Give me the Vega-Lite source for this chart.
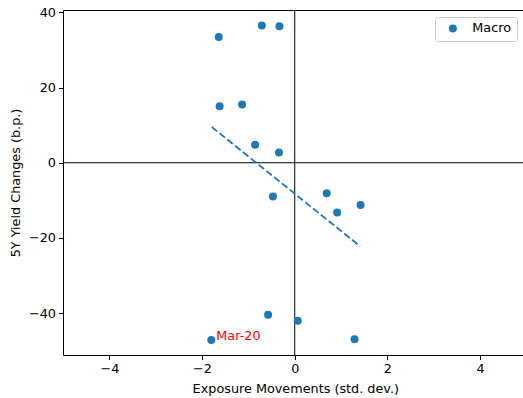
{
  "$schema": "https://vega.github.io/schema/vega-lite/v6.json",
  "width": 460,
  "height": 345,
  "autosize": {"type": "none"},
  "padding": {"left": 63, "top": 10, "right": 0, "bottom": 43},
  "background": "white",
  "config": {
    "font": "DejaVu Sans",
    "view": {"stroke": "#000", "strokeWidth": 1},
    "axis": {
      "grid": false,
      "domain": false,
      "tickColor": "#000",
      "tickSize": 4.5,
      "tickWidth": 1,
      "labelColor": "#000",
      "labelFontSize": 12.8,
      "labelPadding": 3,
      "labelFont": "DejaVu Sans",
      "titleFont": "DejaVu Sans",
      "titleFontSize": 12.8,
      "titleFontWeight": "normal",
      "titleColor": "#000"
    }
  },
  "datasets": {
    "pts": [
      {"x": -1.64, "y": 33.4, "series": "Macro", "label": ""},
      {"x": -0.71, "y": 36.5, "series": "Macro", "label": ""},
      {"x": -0.33, "y": 36.3, "series": "Macro", "label": ""},
      {"x": -1.62, "y": 15.0, "series": "Macro", "label": ""},
      {"x": -1.135, "y": 15.5, "series": "Macro", "label": ""},
      {"x": -0.855, "y": 4.8, "series": "Macro", "label": ""},
      {"x": -0.34, "y": 2.7, "series": "Macro", "label": ""},
      {"x": -0.47, "y": -9.0, "series": "Macro", "label": ""},
      {"x": 0.69, "y": -8.1, "series": "Macro", "label": ""},
      {"x": 0.915, "y": -13.2, "series": "Macro", "label": ""},
      {"x": 1.42, "y": -11.2, "series": "Macro", "label": ""},
      {"x": -0.575, "y": -40.4, "series": "Macro", "label": ""},
      {"x": 0.065, "y": -42.0, "series": "Macro", "label": ""},
      {"x": 1.29, "y": -46.9, "series": "Macro", "label": ""},
      {"x": -1.80, "y": -47.1, "series": "Macro", "label": "Mar-20"}
    ],
    "fit": [
      {"x": -1.79, "y": 9.5},
      {"x": 1.41, "y": -22.2}
    ]
  },
  "layer": [
    {
      "data": {"values": [{}]},
      "mark": {"type": "rule", "color": "#000", "strokeWidth": 1},
      "encoding": {"y": {"datum": 0, "type": "quantitative"}}
    },
    {
      "data": {"values": [{}]},
      "mark": {"type": "rule", "color": "#000", "strokeWidth": 1},
      "encoding": {"x": {"datum": 0, "type": "quantitative"}}
    },
    {
      "data": {"name": "fit"},
      "mark": {"type": "line", "color": "#1f77b4", "strokeWidth": 1.8, "strokeDash": [7, 3]},
      "encoding": {
        "x": {"field": "x", "type": "quantitative"},
        "y": {"field": "y", "type": "quantitative"}
      }
    },
    {
      "data": {"name": "pts"},
      "mark": {"type": "point", "filled": true, "opacity": 1, "size": 64},
      "encoding": {
        "x": {
          "field": "x",
          "type": "quantitative",
          "scale": {"domain": [-5, 4.925], "nice": false, "zero": false},
          "axis": {"values": [-4, -2, 0, 2, 4], "title": "Exposure Movements (std. dev.)", "titleX": 232.3, "titleY": 37, "titleBaseline": "alphabetic", "titleAnchor": null}
        },
        "y": {
          "field": "y",
          "type": "quantitative",
          "scale": {"domain": [-51.1, 40.6], "nice": false, "zero": false},
          "axis": {"values": [-40, -20, 0, 20, 40], "title": "5Y Yield Changes (b.p.)", "titleX": -48, "titleY": 172.5, "titleBaseline": "middle", "titleAngle": -90, "titleAlign": "center"}
        },
        "color": {
          "field": "series",
          "type": "nominal",
          "scale": {"range": ["#1f77b4"]},
          "legend": {
            "title": " ",
            "titleOrient": "left",
            "titleFontSize": 1,
            "titlePadding": 6.5,
            "orient": "none",
            "legendX": 372,
            "legendY": 7,
            "fillColor": "white",
            "strokeColor": "#cccccc",
            "cornerRadius": 3,
            "padding": 5,
            "labelFont": "DejaVu Sans",
            "labelFontSize": 12.8,
            "labelColor": "#000",
            "symbolSize": 64,
            "labelOffset": 13
          }
        }
      }
    },
    {
      "data": {"name": "pts"},
      "transform": [{"filter": "datum.label != ''"}],
      "mark": {"type": "text", "color": "#ff0000", "align": "left", "baseline": "alphabetic", "dx": 5, "fontSize": 12.8, "font": "DejaVu Sans"},
      "encoding": {
        "x": {"field": "x", "type": "quantitative"},
        "y": {"field": "y", "type": "quantitative"},
        "text": {"field": "label"}
      }
    }
  ]
}
